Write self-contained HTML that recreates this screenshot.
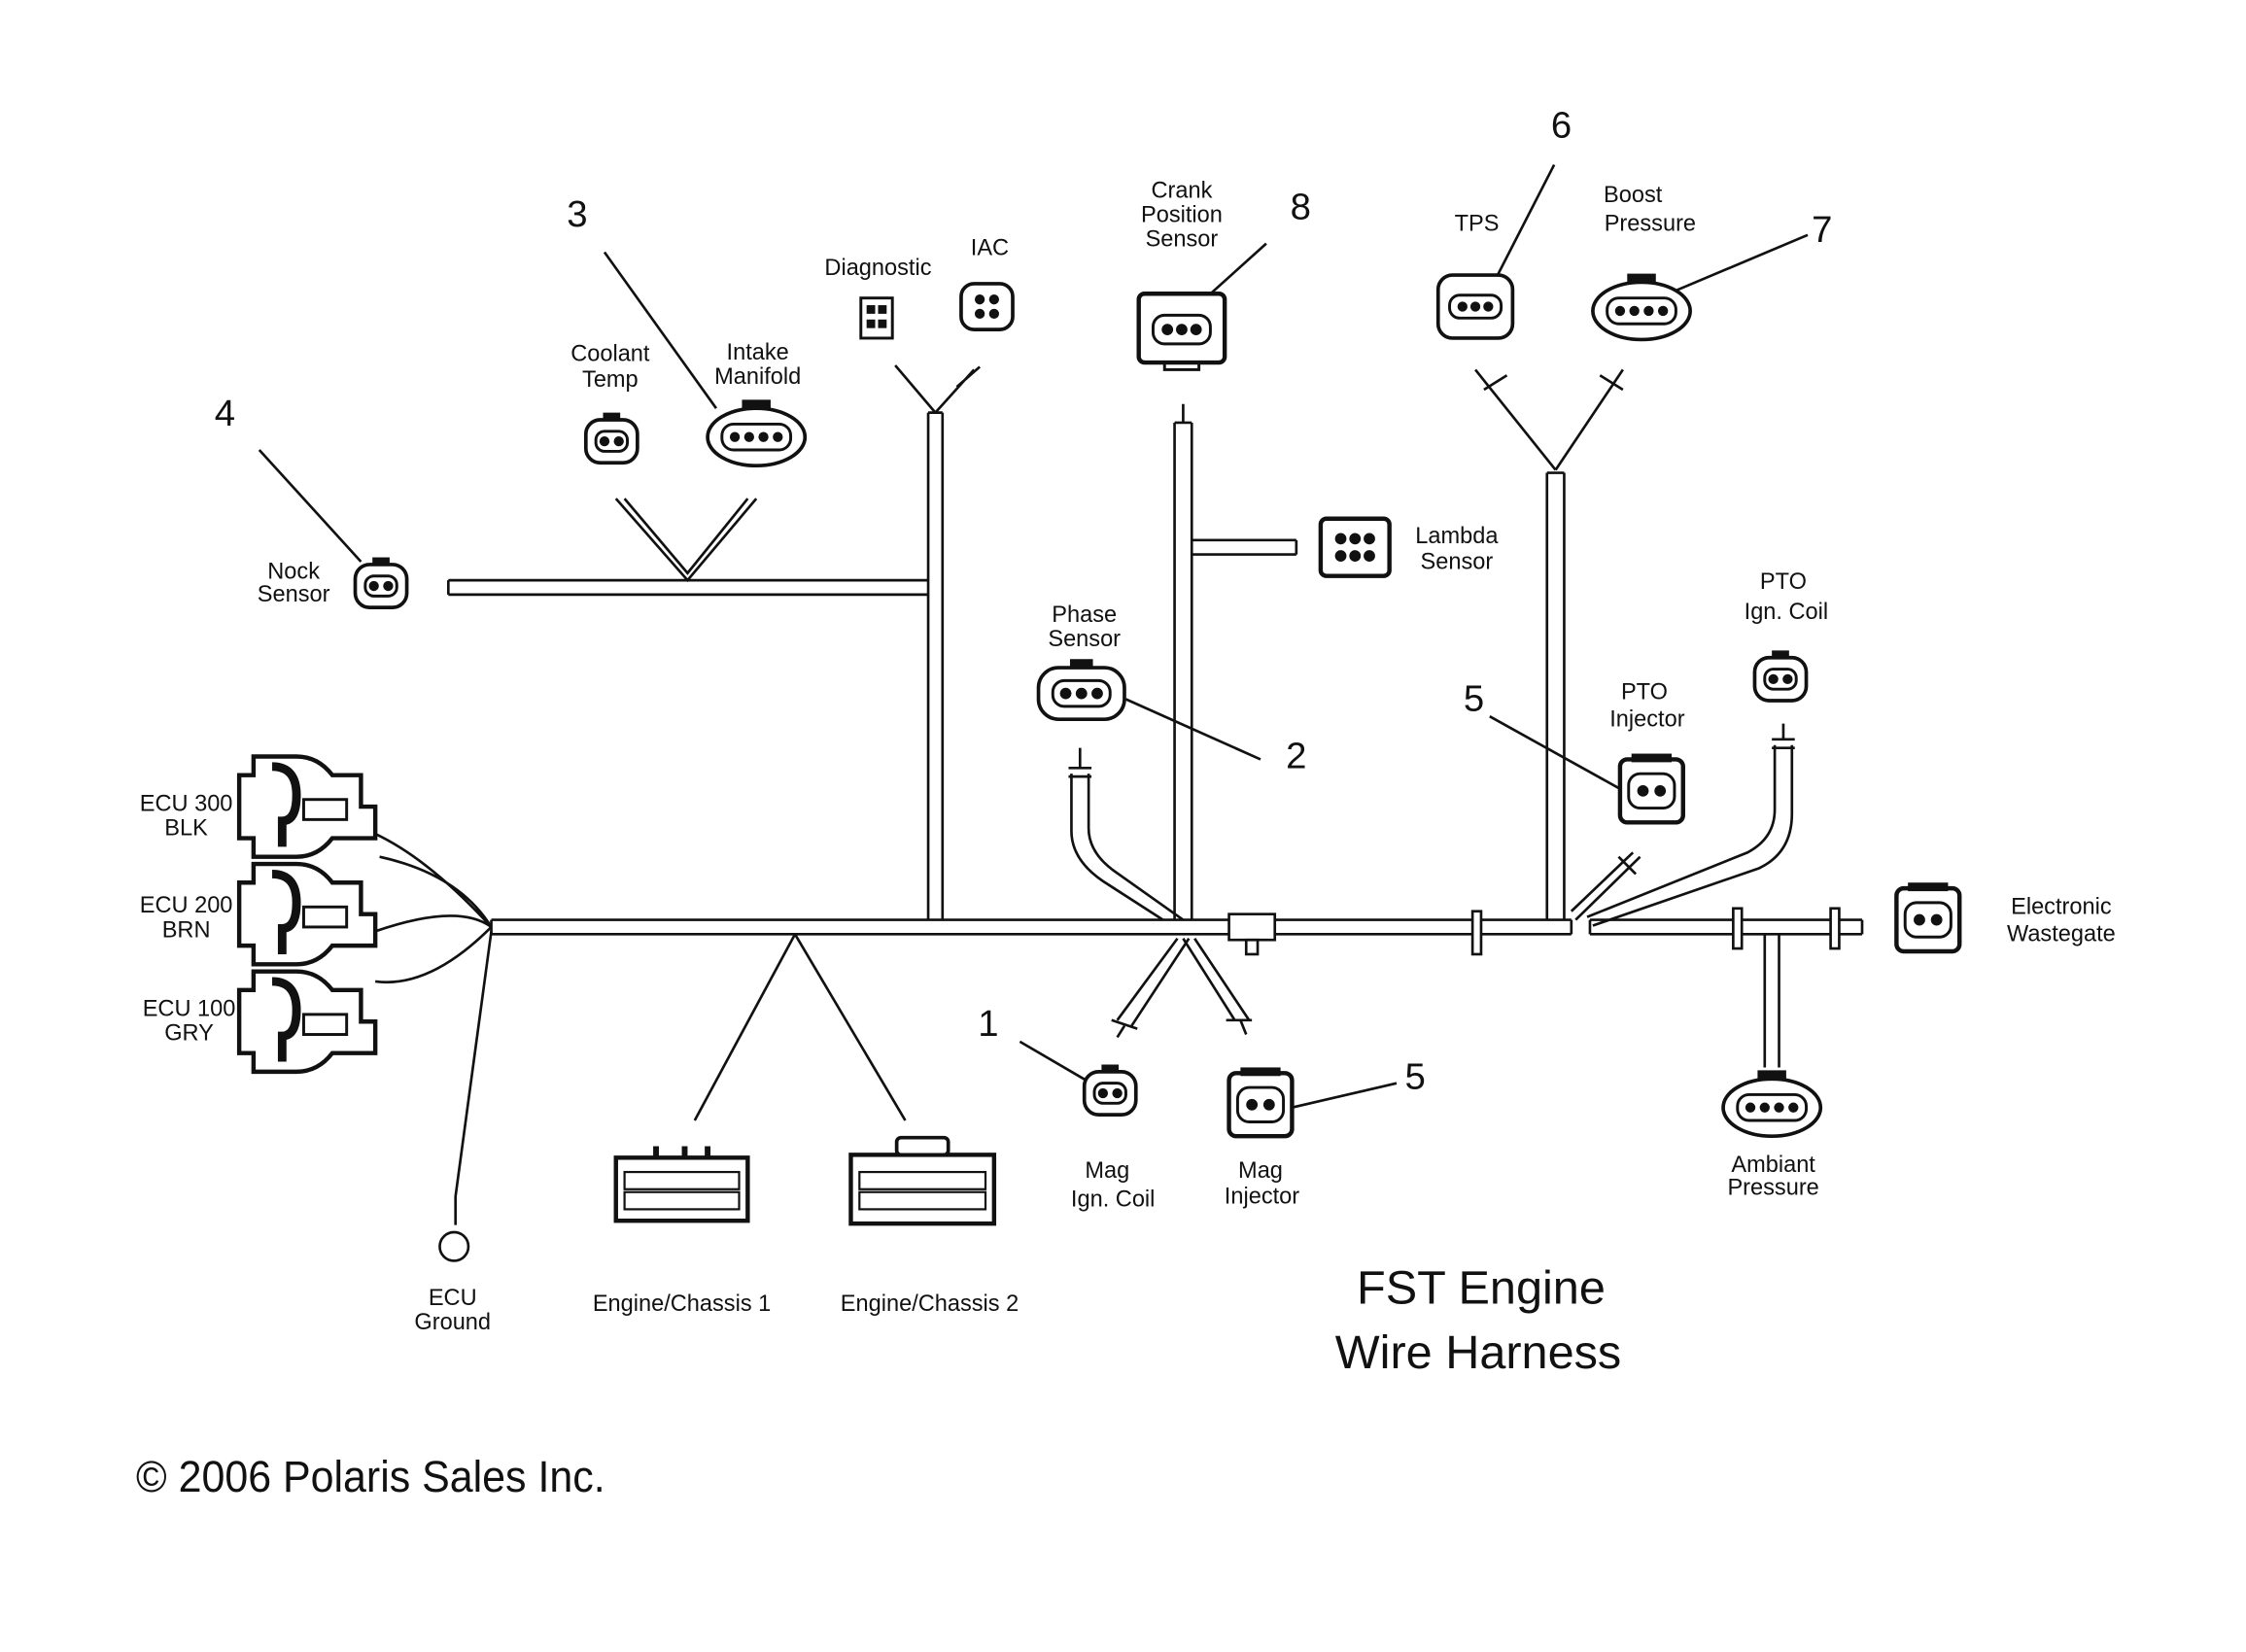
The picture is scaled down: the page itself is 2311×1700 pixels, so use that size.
<!DOCTYPE html>
<html><head><meta charset="utf-8"><style>
html,body{margin:0;padding:0;background:#fff;}
svg{display:block;}
text{font-family:"Liberation Sans",sans-serif;fill:#111;}
</style></head><body>
<svg width="2311" height="1700" viewBox="0 0 1568 1153" preserveAspectRatio="none" xmlns="http://www.w3.org/2000/svg">
<defs>
<g id="c3"><rect x="-30" y="-18" width="60" height="36" rx="14" fill="#fff" stroke="#111" stroke-width="2.5"/><rect x="-20" y="-9" width="40" height="18" rx="8" fill="#fff" stroke="#111" stroke-width="2"/><circle cx="-11" cy="0" r="4" fill="#111"/><circle cx="0" cy="0" r="4" fill="#111"/><circle cx="11" cy="0" r="4" fill="#111"/><rect x="-8" y="-24" width="16" height="6" fill="#111"/></g>
<g id="c2"><rect x="-18" y="-15" width="36" height="30" rx="10" fill="#fff" stroke="#111" stroke-width="2.5"/><rect x="-11" y="-7" width="22" height="14" rx="6" fill="#fff" stroke="#111" stroke-width="2"/><circle cx="-5" cy="0" r="3.5" fill="#111"/><circle cx="5" cy="0" r="3.5" fill="#111"/><rect x="-6" y="-20" width="12" height="5" fill="#111"/></g>
<g id="sq"><rect x="-22" y="-22" width="44" height="44" rx="5" fill="#fff" stroke="#111" stroke-width="3"/><rect x="-16" y="-12" width="32" height="24" rx="8" fill="#fff" stroke="#111" stroke-width="2"/><circle cx="-6" cy="0" r="4" fill="#111"/><circle cx="6" cy="0" r="4" fill="#111"/><rect x="-14" y="-26" width="28" height="6" fill="#111"/></g>
<g id="c4"><ellipse cx="0" cy="0" rx="34" ry="20" fill="#fff" stroke="#111" stroke-width="2.5"/><rect x="-24" y="-9" width="48" height="18" rx="8" fill="#fff" stroke="#111" stroke-width="2"/><circle cx="-15" cy="0" r="3.5" fill="#111"/><circle cx="-5" cy="0" r="3.5" fill="#111"/><circle cx="5" cy="0" r="3.5" fill="#111"/><circle cx="15" cy="0" r="3.5" fill="#111"/><rect x="-10" y="-26" width="20" height="7" fill="#111"/></g>
<g id="ecu"><path d="M-85,-22 L-75,-22 L-75,-35 L-45,-35 Q-30,-35 -20,-22 L0,-22 L0,0 L10,0 L10,22 L-20,22 Q-30,35 -45,35 L-75,35 L-75,22 L-85,22 Z" fill="#fff" stroke="#111" stroke-width="3"/><path d="M-62,-28 Q-45,-28 -45,-8 Q-45,10 -55,10 L-55,28" fill="none" stroke="#111" stroke-width="6"/><rect x="-40" y="-5" width="30" height="14" fill="none" stroke="#111" stroke-width="2"/></g>
</defs>
<g fill="none" stroke="#111" stroke-width="1.8">
<path d="M343,642 H1097 M343,652 H1097 M343,642 V652 M1097,642 V652"/>
<path d="M1110,642 H1300 M1110,652 H1300 M1300,642 V652 M1110,642 V652"/>
<rect x="858" y="638" width="32" height="18" fill="#fff"/>
<rect x="870" y="656" width="8" height="10"/>
<rect x="1028" y="636" width="6" height="30" fill="#fff"/>
<rect x="1210" y="634" width="6" height="28" fill="#fff"/>
<rect x="1278" y="634" width="6" height="28" fill="#fff"/>
<path d="M648,288 V642 M658,288 V642 M648,288 H658"/>
<path d="M653,288 L625,255 M653,288 L680,258 M668,270 L684,256"/>
<path d="M313,405 H648 M313,415 H648 M313,405 V415"/>
<path d="M430,348 L480,405 L528,348 M436,348 L480,400 L522,348"/>
<path d="M820,295 V642 M832,295 V642 M820,295 H832 M826,295 V282"/>
<path d="M832,377 H905 M832,387 H905 M905,377 V387"/>
<path d="M1080,330 V642 M1092,330 V642 M1080,330 H1092"/>
<path d="M1086,328 L1030,258 M1086,328 L1133,258 M1036,272 L1052,262 M1117,262 L1133,272"/>
<path d="M748,540 V580 Q748,600 770,615 L812,642 M760,540 V578 Q760,595 778,608 L826,642"/>
<path d="M746,536 H762 M746,542 H762 M754,536 V522"/>
<path d="M1239,520 V565 Q1239,585 1220,595 L1108,640 M1251,520 V568 Q1251,595 1228,606 L1112,646"/>
<path d="M1237,516 H1253 M1237,522 H1253 M1245,516 V505"/>
<path d="M1097,636 L1140,595 M1100,642 L1145,598 M1130,598 L1142,610"/>
<path d="M1232,652 V745 M1242,652 V745"/>
<path d="M822,655 L780,712 M830,655 L790,716 M826,655 L862,712 M834,655 L872,712"/>
<path d="M776,712 L794,718 M856,712 L874,712 M785,716 L780,724 M866,712 L870,722"/>
<path d="M555,652 L485,782 M555,652 L632,782"/>
<path d="M343,647 Q320,610 265,598 M343,647 Q300,600 262,582 M343,647 Q320,630 262,650 M343,647 Q300,690 262,685"/>
<path d="M343,650 L318,835 M318,835 V855"/>
<circle cx="317" cy="870" r="10"/>
<path d="M181,314 L252,392 M422,176 L500,285 M884,170 L834,215 M1085,115 L1045,193 M1262,164 L1160,207 M880,530 L786,488 M1040,500 L1130,550 M975,756 L902,773 M712,727 L760,755"/>
</g>
<use href="#c2" x="266" y="409"/>
<use href="#c2" x="427" y="308"/>
<use href="#c4" x="528" y="305"/>
<g transform="translate(612,222)"><rect x="-11" y="-14" width="22" height="28" fill="#fff" stroke="#111" stroke-width="2"/><rect x="-7" y="-9" width="6" height="6" fill="#111"/><rect x="1" y="-9" width="6" height="6" fill="#111"/><rect x="-7" y="1" width="6" height="6" fill="#111"/><rect x="1" y="1" width="6" height="6" fill="#111"/></g>
<g transform="translate(689,214)"><rect x="-18" y="-16" width="36" height="32" rx="9" fill="#fff" stroke="#111" stroke-width="2.5"/><circle cx="-5" cy="-5" r="3.5" fill="#111"/><circle cx="5" cy="-5" r="3.5" fill="#111"/><circle cx="-5" cy="5" r="3.5" fill="#111"/><circle cx="5" cy="5" r="3.5" fill="#111"/></g>
<g transform="translate(825,230)"><rect x="-30" y="-25" width="60" height="48" rx="4" fill="#fff" stroke="#111" stroke-width="3"/><rect x="-20" y="-10" width="40" height="20" rx="8" fill="#fff" stroke="#111" stroke-width="2"/><circle cx="-10" cy="0" r="4" fill="#111"/><circle cx="0" cy="0" r="4" fill="#111"/><circle cx="10" cy="0" r="4" fill="#111"/><rect x="-12" y="23" width="24" height="5" fill="none" stroke="#111" stroke-width="2"/></g>
<g transform="translate(1030,214)"><rect x="-26" y="-22" width="52" height="44" rx="10" fill="#fff" stroke="#111" stroke-width="2.5"/><rect x="-18" y="-8" width="36" height="16" rx="7" fill="#fff" stroke="#111" stroke-width="2"/><circle cx="-9" cy="0" r="3.5" fill="#111"/><circle cx="0" cy="0" r="3.5" fill="#111"/><circle cx="9" cy="0" r="3.5" fill="#111"/></g>
<use href="#c4" x="1146" y="217"/>
<g transform="translate(946,382)"><rect x="-24" y="-20" width="48" height="40" rx="4" fill="#fff" stroke="#111" stroke-width="3"/><circle cx="-10" cy="-6" r="4" fill="#111"/><circle cx="0" cy="-6" r="4" fill="#111"/><circle cx="10" cy="-6" r="4" fill="#111"/><circle cx="-10" cy="6" r="4" fill="#111"/><circle cx="0" cy="6" r="4" fill="#111"/><circle cx="10" cy="6" r="4" fill="#111"/></g>
<use href="#c3" x="755" y="484"/>
<use href="#sq" x="1153" y="552"/>
<use href="#c2" x="1243" y="474"/>
<use href="#sq" x="1346" y="642"/>
<use href="#c4" x="1237" y="773"/>
<use href="#c2" x="775" y="763"/>
<use href="#sq" x="880" y="771"/>
<g transform="translate(476,830)"><rect x="-46" y="-22" width="92" height="44" fill="#fff" stroke="#111" stroke-width="3"/><rect x="-40" y="-12" width="80" height="12" fill="none" stroke="#111" stroke-width="1.5"/><rect x="-40" y="2" width="80" height="12" fill="none" stroke="#111" stroke-width="1.5"/><rect x="-20" y="-30" width="4" height="8" fill="#111"/><rect x="0" y="-30" width="4" height="8" fill="#111"/><rect x="16" y="-30" width="4" height="8" fill="#111"/></g>
<g transform="translate(644,828)"><rect x="-50" y="-22" width="100" height="48" fill="#fff" stroke="#111" stroke-width="3"/><rect x="-44" y="-10" width="88" height="12" fill="none" stroke="#111" stroke-width="1.5"/><rect x="-44" y="4" width="88" height="12" fill="none" stroke="#111" stroke-width="1.5"/><rect x="-18" y="-34" width="36" height="12" rx="3" fill="#fff" stroke="#111" stroke-width="2.5"/></g>
<use href="#ecu" x="252" y="563"/>
<use href="#ecu" x="252" y="638"/>
<use href="#ecu" x="252" y="713"/>
<g font-size="16" text-anchor="middle">
<text x="205" y="404">Nock</text><text x="205" y="420">Sensor</text>
<text x="426" y="252">Coolant</text><text x="426" y="270">Temp</text>
<text x="529" y="251">Intake</text><text x="529" y="268">Manifold</text>
<text x="613" y="192">Diagnostic</text>
<text x="691" y="178">IAC</text>
<text x="825" y="138">Crank</text><text x="825" y="155">Position</text><text x="825" y="172">Sensor</text>
<text x="1031" y="161">TPS</text>
<text x="1140" y="141">Boost</text><text x="1152" y="161">Pressure</text>
<text x="1017" y="379">Lambda</text><text x="1017" y="397">Sensor</text>
<text x="757" y="434">Phase</text><text x="757" y="451">Sensor</text>
<text x="1148" y="488">PTO</text><text x="1150" y="507">Injector</text>
<text x="1245" y="411">PTO</text><text x="1247" y="432">Ign. Coil</text>
<text x="1439" y="638">Electronic</text><text x="1439" y="657">Wastegate</text>
<text x="1238" y="818">Ambiant</text><text x="1238" y="834">Pressure</text>
<text x="773" y="822">Mag</text><text x="777" y="842">Ign. Coil</text>
<text x="880" y="822">Mag</text><text x="881" y="840">Injector</text>
<text x="476" y="915">Engine/Chassis 1</text>
<text x="649" y="915">Engine/Chassis 2</text>
<text x="316" y="911">ECU</text><text x="316" y="928">Ground</text>
<text x="130" y="566">ECU 300</text><text x="130" y="583">BLK</text>
<text x="130" y="637">ECU 200</text><text x="130" y="654">BRN</text>
<text x="132" y="709">ECU 100</text><text x="132" y="726">GRY</text>
</g>
<g font-size="26" text-anchor="middle">
<text x="403" y="158">3</text><text x="157" y="297">4</text><text x="908" y="153">8</text>
<text x="1090" y="96">6</text><text x="1272" y="169">7</text><text x="905" y="536">2</text>
<text x="1029" y="496">5</text><text x="988" y="760">5</text><text x="690" y="723">1</text>
</g>
<text x="1034" y="910" font-size="33" text-anchor="middle">FST Engine</text>
<text x="1032" y="955" font-size="33" text-anchor="middle">Wire Harness</text>
<text x="95" y="1041" font-size="31" transform="translate(95,0) scale(0.94,1) translate(-95,0)">© 2006 Polaris Sales Inc.</text>
</svg>
</body></html>
